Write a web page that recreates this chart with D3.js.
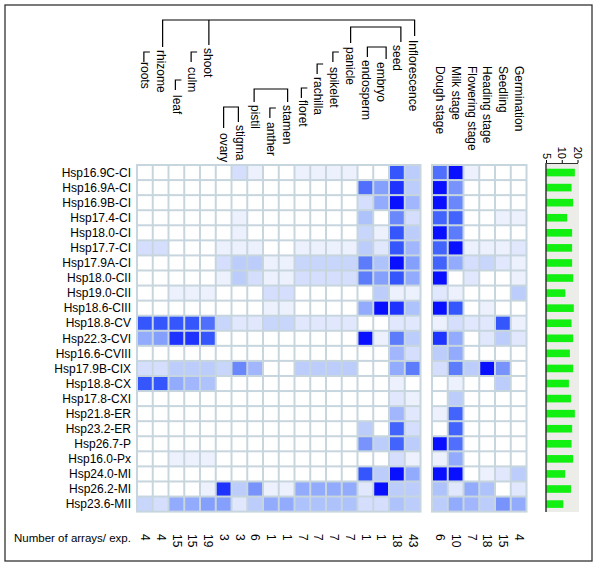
<!DOCTYPE html>
<html>
<head>
<meta charset="utf-8">
<script src="https://cdn.jsdelivr.net/npm/d3@7"></script>
<style>
  body { margin: 0; background: #fff; }
  text { font-family: "Liberation Sans", Arial, sans-serif; fill: #000; }
</style>
</head>
<body>
<script>
// rows of the heat map
var genes = ["Hsp16.9C-CI","Hsp16.9A-CI","Hsp16.9B-CI","Hsp17.4-CI","Hsp18.0-CI","Hsp17.7-CI",
  "Hsp17.9A-CI","Hsp18.0-CII","Hsp19.0-CII","Hsp18.6-CIII","Hsp18.8-CV","Hsp22.3-CVI",
  "Hsp16.6-CVIII","Hsp17.9B-CIX","Hsp18.8-CX","Hsp17.8-CXI","Hsp21.8-ER","Hsp23.2-ER",
  "Hsp26.7-P","Hsp16.0-Px","Hsp24.0-MI","Hsp26.2-MI","Hsp23.6-MII"];

var tissues = ["roots","rhizome","leaf","culm","shoot","ovary","stigma","pistil","anther","stamen",
  "floret","rachilla","spikelet","panicle","endosperm","embryo","seed","Inflorescence"];
var stages = ["Dough  stage","Milk stage","Flowering  stage","Heading stage","Seedling","Germination"];

var tissueArrays = [4,4,15,15,19,3,3,6,1,1,7,7,7,7,1,1,18,43];
var stageArrays = [6,10,7,18,15,4];

// expression level 0 (none) .. 10 (strongest), one row per gene
var tissueLevels = [
  [0,0,0,0,0,0,2,1,0,0,1,1,1,1,0,0,8,3],
  [0,0,0,0,0,0,0,0,0,0,0,0,0,0,7,5,9,3],
  [0,0,0,0,0,0,0,0,0,0,0,0,0,0,2,4.5,10,4],
  [0,0,0,0,0,0,1,0,0,0,0,0,0,0,3.5,0,6,2],
  [0,0,0,0,0,0,1,0,0,0,0,0,0,0,2.5,1,8,3],
  [2,2,0,0,0,1,1,1,0,0,1,1,1,1,3,1.5,8,4],
  [0,0,0,0,0,2,3,3,1,1,2.5,2.5,2.5,2.5,6.5,3.5,10,5],
  [0,0,0,0,0,1,3,2,1,1,2,2,2,2,6.5,5,8,4.5],
  [0,0,1,1,1,0,0,0,2,2,0,0,0,0,0,3,1,1],
  [0,0,0,0,0,0,0,0,1,1,0,0,0,0,4.5,10,9,3.5],
  [8,8,8,8,7,2.5,1.5,1.5,2.5,2.5,1.5,1.5,1.5,1.5,0,0,1.5,1.5],
  [4.5,5,9,9,8,0,0,0,0,0,0,0,0,0,10,1,6.5,3],
  [0,0,0,0,0,0,0,0,0,0,0,0,0,0,0,0,4,2],
  [2,2,3,3,3,2.5,6,4,0,0,3,3,3,3,0,0,4.5,6.5],
  [8,8,4.5,4,3.5,0,0,0,0,0,0,0,0,0,0,0,1,0],
  [0,0,0,0,0,0,0,0,0,0,0,0,0,0,0,0,1.5,1],
  [0,0,0,0,0,0,0,0,0,0,0,0,0,0,0,0,4,1.5],
  [0,0,0,0,0,0,0,0,0,0,0,0,0,0,3,0,7.5,2],
  [0,0,0,0,0,0,0,0,0,0,0,0,0,0,5.5,3,7.5,3],
  [0,0,1,1,1,0,0,0,0,0,0,0,0,0,0,0,2,1],
  [0,0,0,0,0,0,0,0,0,0,0,0,0,0,8,3,10,4.5],
  [0,0,0,0,1,9,3,5.5,1,1,4.5,4.5,4.5,4.5,1.5,10,3,3],
  [2.5,2,4.5,4.5,5,5,1.5,3,4.5,4.5,3.5,3.5,3.5,3.5,2,2,3.5,3]
];
var stageLevels = [
  [7,10,1,0,0,0],
  [10,5.5,0,0,0,0],
  [10,6,0,0,0,0],
  [7.5,7.5,0,0,1,1],
  [10,6.5,0,0,0,0],
  [7.5,10,1,1,1,1.5],
  [7.5,4.5,2,2.5,1.5,1],
  [10,0,1.5,0,0,1],
  [1.5,1,0,0,0,3],
  [10,8,0,1,0,0],
  [1,2,1.5,1.5,8,1],
  [9,4.5,0,1.5,3,1.5],
  [3,4.5,0,0,0,0],
  [2,6.5,3,10,5.5,0],
  [0,1,0,0,3,0],
  [0,3,0,0,0,0],
  [1,7.5,0,0,0,0],
  [0,7.5,0,0,0,0],
  [10,7,0,0,0,0],
  [1,4.5,0,0,0,0],
  [10,10,0,1,1.5,3],
  [3.5,1.5,4.5,3.5,0,1.5],
  [3,4.5,4,3,5.5,4.5]
];
var barValues = [17.8,15.4,16.5,12.7,15.8,15.8,15.8,16.5,11.7,17.0,15.4,16.5,14.3,16.5,
  13.7,15.0,17.8,15.8,15.4,16.5,11.6,15.0,10.7];
var barTicks = [5,10,20];

// where each rotated header label starts (top), px
var tissueTop = [62,50,95,67,48,133,125,105,122,105,100,77,67,47,60,62,45,40];

var W = 600, H = 565;
var svg = d3.select("body").append("svg").attr("width", W).attr("height", H);

svg.append("rect").attr("x", 5).attr("y", 5).attr("width", 587).attr("height", 556)
  .attr("fill", "none").attr("stroke", "#333").attr("stroke-width", 1.3);

var cw = 15.75, rh = 15.07, gridTop = 165;
var x = d3.scaleBand().domain(tissues).range([137, 137 + tissues.length * cw]);
var x2 = d3.scaleBand().domain(stages).range([432, 432 + stages.length * cw]);
var y = d3.scaleBand().domain(genes).range([gridTop, gridTop + genes.length * rh]);

var color = d3.scaleLinear().domain([0, 1, 3, 6, 8, 10])
  .range(["#ffffff", "#edf1fd", "#bccdfc", "#6a88fc", "#3556fc", "#0810ff"]);

function heat(xs, levels, names) {
  var g = svg.append("g");
  var r = xs.range();
  g.append("rect").attr("x", r[0] - 1).attr("y", gridTop - 1)
    .attr("width", r[1] - r[0] + 2).attr("height", genes.length * rh + 2)
    .attr("fill", "#c7d6de");
  levels.forEach(function(row, i) {
    g.selectAll(null).data(row).enter().append("rect")
      .attr("x", function(d, j) { return xs(names[j]) + 1; })
      .attr("y", y(genes[i]) + 1)
      .attr("width", xs.bandwidth() - 2)
      .attr("height", y.bandwidth() - 2)
      .attr("fill", function(d) { return color(d); });
  });
}
heat(x, tissueLevels, tissues);
heat(x2, stageLevels, stages);

// gene names
svg.append("g").selectAll("text").data(genes).enter().append("text")
  .attr("x", 131).attr("y", function(d) { return y(d) + rh / 2; })
  .attr("dy", "0.35em").attr("text-anchor", "end").style("font-size", "12px")
  .text(function(d) { return d; });

// rotated column headers
function vlabel(xp, yp, t, size) {
  svg.append("text").attr("transform", "translate(" + xp + "," + yp + ") rotate(90)")
    .attr("dy", "0.35em").style("font-size", size).text(t);
}
tissues.forEach(function(t, i) { vlabel(x(t) + cw / 2 + 0.5, tissueTop[i], t, "12px"); });
stages.forEach(function(t) { vlabel(x2(t) + cw / 2 + 0.5, 66, t, "12px"); });

// tree lines above the header
var tree = svg.append("g").attr("fill", "none").attr("stroke", "#000").attr("stroke-width", 1.2);
function cx(t) { return x(t) + cw / 2; }
var lines = [
  "M" + (cx("rhizome") + 2) + ",47V20H" + (cx("Inflorescence") + 2) + "V36",
  "M" + (cx("shoot") + 1) + ",20V45",
  "M" + (cx("panicle") + 1) + ",43V27H" + (cx("seed") + 4) + "V42",
  "M" + (cx("endosperm") + 2) + ",57V47H" + (cx("embryo") + 5) + "V59",
  "M" + (cx("pistil") - 1) + ",102V89H" + (cx("stamen") + 1) + "V102",
  "M" + (cx("ovary")) + ",128V107H" + (cx("stigma") - 1) + "V122"
];
// small corner marks: [label, top]
var corners = [["roots",52],["leaf",80],["culm",52],["anther",108],["floret",88],
  ["rachilla",64],["spikelet",52]];
corners.forEach(function(c) {
  var cxp = cx(c[0]) - 1;
  lines.push("M" + (cxp + 6) + "," + c[1] + "H" + cxp + "V" + (c[1] + 10));
});
tree.selectAll("path").data(lines).enter().append("path").attr("d", function(d) { return d; });

// bar panel on the right
var xb = d3.scaleLog().domain([5, 20]).range([546, 577.5]);
svg.append("rect").attr("x", 546).attr("y", 163).attr("width", 33).attr("height", 349)
  .attr("fill", "#ecece8");
svg.append("g").selectAll("rect").data(barValues).enter().append("rect")
  .attr("x", 546)
  .attr("y", function(d, i) { return y(genes[i]) + rh / 2 - 3.8; })
  .attr("width", function(d) { return xb(d) - 546; })
  .attr("height", 7.6)
  .attr("fill", "#11f011");
svg.append("line").attr("x1", 546).attr("x2", 546).attr("y1", 163).attr("y2", 512)
  .attr("stroke", "#333").attr("stroke-width", 1.5);
var ax = svg.append("g").attr("transform", "translate(0,163)")
  .call(d3.axisTop(xb).tickValues(barTicks).tickSize(3).tickSizeOuter(0).tickFormat(d3.format("d")));
ax.select(".domain").attr("stroke", "#333");
ax.selectAll("text").attr("transform", "rotate(90)").attr("x", -4).attr("y", 0)
  .attr("dy", "0.35em").style("text-anchor", "end").style("font-size", "11px")
  .style("font-family", "Liberation Sans, Arial, sans-serif").attr("fill", "#000");

// number of arrays row
svg.append("text").attr("x", 14).attr("y", 542).style("font-size", "11.5px").text("Number of arrays/ exp.");
tissues.forEach(function(t, i) { vlabel(cx(t) + 0.5, 534, String(tissueArrays[i]), "12px"); });
stages.forEach(function(t, i) { vlabel(x2(t) + cw / 2 + 0.5, 534, String(stageArrays[i]), "12px"); });
</script>
</body>
</html>
